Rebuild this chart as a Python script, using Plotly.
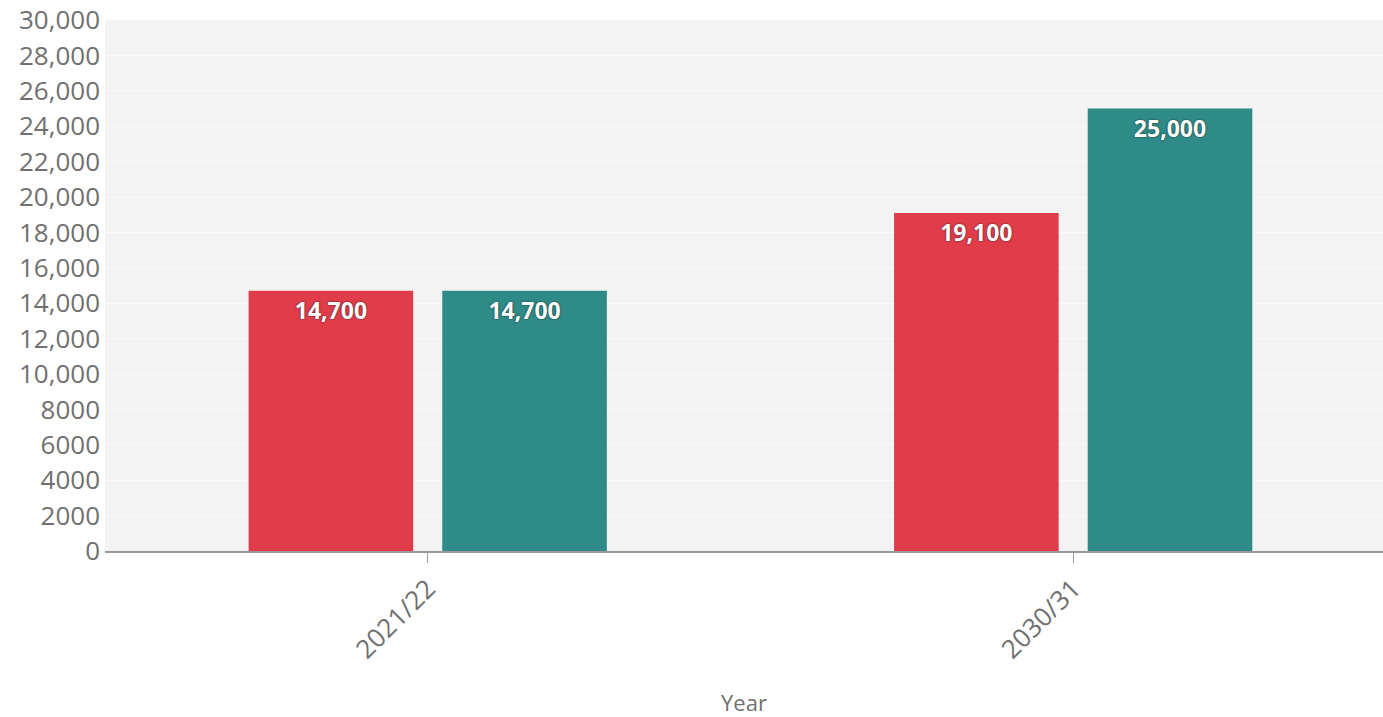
import plotly.graph_objects as go

categories = ["2021/22", "2030/31"]
series_a = [14700, 19100]
series_b = [14700, 25000]
tick_values = [0, 2000, 4000, 6000, 8000, 10000, 12000, 14000, 16000, 18000, 20000,
               22000, 24000, 26000, 28000, 30000]
tick_labels = ["0", "2000", "4000", "6000", "8000", "10,000", "12,000", "14,000", "16,000",
               "18,000", "20,000", "22,000", "24,000", "26,000", "28,000", "30,000"]

label_font = dict(family="Open Sans, Segoe UI, sans-serif", size=23, color="white",
                  weight="bold", shadow="0px 0px 2px #222")

fig = go.Figure()
fig.add_trace(go.Bar(x=categories, y=series_a, marker_color="#e03c4a", marker_line_width=0,
                     texttemplate="%{y:,}", textposition="inside", insidetextanchor="end",
                     textfont=label_font, textangle=0, hoverinfo="skip"))
fig.add_trace(go.Bar(x=categories, y=series_b, marker_color="#2e8b88", marker_line_width=0,
                     texttemplate="%{y:,}", textposition="inside", insidetextanchor="end",
                     textfont=label_font, textangle=0, hoverinfo="skip"))

fig.update_layout(
    width=1383, height=717,
    margin=dict(l=105, r=0, t=20, b=166),
    paper_bgcolor="white", plot_bgcolor="#f3f3f3",
    barmode="group", bargap=0.40, bargroupgap=0.15,
    showlegend=False,
    font=dict(family="Open Sans, sans-serif", color="#666666"),
)
fig.update_xaxes(
    type="category", range=[-0.5, 1.48], automargin=False,
    tickangle=-45, tickfont=dict(size=26, color="#707070"),
    ticks="outside", ticklen=10, tickcolor="#999999", tickwidth=1,
    showline=True, linecolor="#999999", linewidth=2,
    showgrid=False,
    title=dict(text="Year", font=dict(size=22, color="#707070"), standoff=42),
)
fig.update_yaxes(
    range=[0, 30000], tickvals=tick_values, ticktext=tick_labels, automargin=False,
    tickfont=dict(size=26, color="#707070"), ticklabelstandoff=4,
    showgrid=True, gridcolor="#fafafa", gridwidth=1,
    zeroline=False, showline=False, ticks="",
)

fig.write_html("out.html")
